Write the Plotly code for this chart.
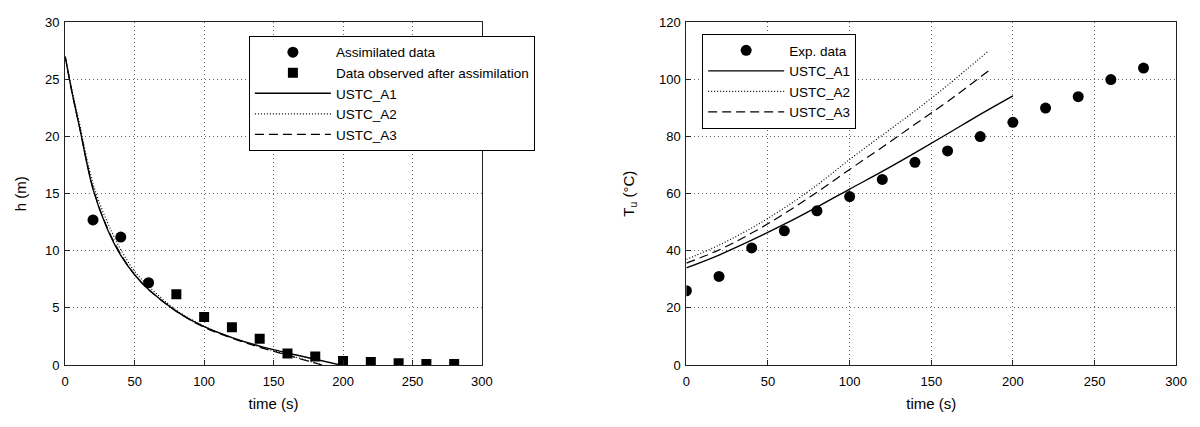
import plotly.graph_objects as go

# ---- left panel: water level h (m) ----
t_assim = [20, 40, 60]
h_assim = [12.7, 11.2, 7.2]
t_obs = [80, 100, 120, 140, 160, 180, 200, 220, 240, 260, 280]
h_obs = [6.2, 4.2, 3.3, 2.3, 1.0, 0.75, 0.35, 0.25, 0.15, 0.08, 0.08]

t_h_a1 = [0, 5, 10, 20, 30, 40, 50, 60, 80, 100, 120, 140, 160, 180, 198]
h_a1 = [27.0, 23.8, 21.0, 15.4, 12.0, 9.6, 7.9, 6.6, 4.7, 3.35, 2.4, 1.65, 1.05, 0.5, 0.0]
t_h_a2 = [0, 5, 10, 20, 30, 40, 50, 60, 80, 100, 120, 140, 160, 185]
h_a2 = [27.0, 24.0, 21.3, 15.9, 12.6, 10.1, 8.2, 6.9, 4.8, 3.4, 2.4, 1.6, 0.9, 0.0]
t_h_a3 = [0, 5, 10, 20, 30, 40, 50, 60, 80, 100, 120, 140, 160, 185]
h_a3 = [27.0, 23.8, 21.0, 15.5, 12.1, 9.7, 7.9, 6.6, 4.7, 3.3, 2.35, 1.55, 0.85, 0.0]

# ---- right panel: upper layer temperature Tu (°C) ----
t_exp = [0, 20, 40, 60, 80, 100, 120, 140, 160, 180, 200, 220, 240, 260, 280]
T_exp = [26, 31, 41, 47, 54, 59, 65, 71, 75, 80, 85, 90, 94, 100, 104]

t_T_a1 = [0, 20, 40, 60, 80, 100, 120, 140, 160, 180, 200]
T_a1 = [34.0, 38.5, 43.7, 49.3, 55.3, 61.6, 67.8, 74.3, 81.0, 87.8, 94.3]
t_T_a2 = [0, 20, 40, 60, 80, 100, 120, 140, 160, 185]
T_a2 = [37.0, 42.0, 48.0, 55.0, 63.0, 72.0, 80.5, 89.0, 98.0, 110.0]
t_T_a3 = [0, 20, 40, 60, 80, 100, 120, 140, 160, 185]
T_a3 = [35.7, 40.3, 46.2, 53.0, 60.5, 68.5, 76.3, 84.3, 92.3, 103.0]

FONT = "Liberation Sans, Arial, sans-serif"
BLACK = "#000000"
DOT = "1px,2px"
DASH = "9px,5px"

fig = go.Figure()

# left panel traces
fig.add_trace(go.Scatter(x=t_assim, y=h_assim, mode="markers", name="Assimilated data",
                         marker=dict(symbol="circle", size=11, color=BLACK),
                         xaxis="x", yaxis="y", legend="legend"))
fig.add_trace(go.Scatter(x=t_obs, y=h_obs, mode="markers", name="Data observed after assimilation",
                         marker=dict(symbol="square", size=10, color=BLACK),
                         xaxis="x", yaxis="y", legend="legend"))
fig.add_trace(go.Scatter(x=t_h_a1, y=h_a1, mode="lines", name="USTC_A1",
                         line=dict(color=BLACK, width=1.4, dash="solid", shape="spline"),
                         xaxis="x", yaxis="y", legend="legend"))
fig.add_trace(go.Scatter(x=t_h_a2, y=h_a2, mode="lines", name="USTC_A2",
                         line=dict(color=BLACK, width=1.2, dash=DOT, shape="spline"),
                         xaxis="x", yaxis="y", legend="legend"))
fig.add_trace(go.Scatter(x=t_h_a3, y=h_a3, mode="lines", name="USTC_A3",
                         line=dict(color=BLACK, width=1.2, dash=DASH, shape="spline"),
                         xaxis="x", yaxis="y", legend="legend"))

# right panel traces
fig.add_trace(go.Scatter(x=t_exp, y=T_exp, mode="markers", name="Exp. data",
                         marker=dict(symbol="circle", size=11, color=BLACK),
                         xaxis="x2", yaxis="y2", legend="legend2"))
fig.add_trace(go.Scatter(x=t_T_a1, y=T_a1, mode="lines", name="USTC_A1",
                         line=dict(color=BLACK, width=1.4, dash="solid", shape="spline"),
                         xaxis="x2", yaxis="y2", legend="legend2"))
fig.add_trace(go.Scatter(x=t_T_a2, y=T_a2, mode="lines", name="USTC_A2",
                         line=dict(color=BLACK, width=1.2, dash=DOT, shape="spline"),
                         xaxis="x2", yaxis="y2", legend="legend2"))
fig.add_trace(go.Scatter(x=t_T_a3, y=T_a3, mode="lines", name="USTC_A3",
                         line=dict(color=BLACK, width=1.2, dash=DASH, shape="spline"),
                         xaxis="x2", yaxis="y2", legend="legend2"))

W, H = 1200, 427
y_dom = [1 - 371 / H, 1 - 16 / H]

axis_common = dict(
    showline=True, linecolor="#222222", linewidth=1.2, mirror=True,
    ticks="inside", ticklen=5, tickcolor="#222222",
    showgrid=True, gridcolor="#666666", griddash="1px,3px", gridwidth=1,
    zeroline=False,
    tickfont=dict(family=FONT, size=13, color=BLACK),
)

legend_common = dict(
    xanchor="left", yanchor="top",
    bgcolor="white", bordercolor=BLACK, borderwidth=1,
    font=dict(family=FONT, size=13.5, color=BLACK),
    tracegroupgap=0, itemwidth=76,
)

fig.update_layout(
    width=W, height=H,
    margin=dict(l=0, r=0, t=0, b=0),
    paper_bgcolor="white", plot_bgcolor="white",
    font=dict(family=FONT, size=13, color=BLACK),
    xaxis=dict(domain=[62 / W, 484 / W], range=[0, 300], dtick=50, anchor="y",
               ticklabelstandoff=4,
               title=dict(text="time (s)", font=dict(size=15), standoff=10), **axis_common),
    yaxis=dict(domain=y_dom, range=[0, 30], dtick=5, anchor="x",
               ticklabelstandoff=2,
               title=dict(text="h (m)", font=dict(size=15), standoff=14), **axis_common),
    xaxis2=dict(domain=[691 / W, 1187 / W], range=[0, 300], dtick=50, anchor="y2",
                ticklabelstandoff=4,
                title=dict(text="time (s)", font=dict(size=15), standoff=10), **axis_common),
    yaxis2=dict(domain=y_dom, range=[0, 120], dtick=20, anchor="x2",
                ticklabelstandoff=2,
                title=dict(text="T<sub>u</sub> (°C)", font=dict(size=15), standoff=20), **axis_common),
    legend=dict(x=248 / W, y=1 - 30 / H, **legend_common),
    legend2=dict(x=707 / W, y=1 - 28 / H, **legend_common),
)

fig.write_html("out.html")
